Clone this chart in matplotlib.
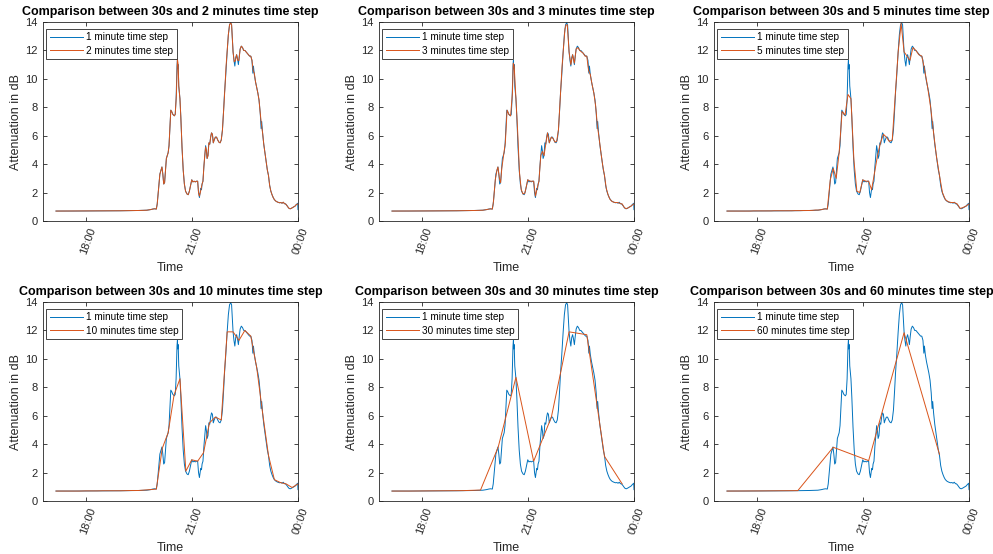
import matplotlib
matplotlib.use("Agg")
import matplotlib.pyplot as plt
import matplotlib.dates as mdates
from matplotlib.transforms import ScaledTranslation
import numpy as np
from datetime import datetime, timedelta

plt.rcParams['font.family'] = ['Liberation Sans', 'DejaVu Sans']

# All times are minutes relative to 21:00 on the day of the event
REF_TIME = datetime(2020, 6, 1, 21, 0)
SERIES_START = -230  # 17:10

# Fine-resolution attenuation record (dB)
base_t = [-230, -200, -160, -120, -90, -76, -70, -66, -63, -60, -58.5, -56, -54, -52,
          -50.5, -49, -47.5, -46, -44.5, -43, -41.5, -40, -38.5, -37, -35.5, -34, -32,
          -29.5, -28, -26.5, -25, -24.3, -23.6, -23, -22, -20, -18.5, -16.5, -14.5,
          -12.5, -10.5, -8, -6, -4, -2, 0, 2, 4, 6, 8, 10, 11.5, 13, 14.5, 15.5, 16.5,
          17.5, 19, 20.5, 22, 23.5, 25, 26, 27.5, 29, 30.5, 32, 33.5, 35, 36.5, 38, 40,
          42, 44, 46, 48, 50, 52, 54, 55.5, 57.5, 60, 62, 64, 66, 67.5, 69, 70, 71.5,
          73, 74.5, 76, 77.5, 79, 80.5, 82, 84, 86, 88, 90, 92, 94, 96, 98, 100, 102,
          103.5, 104.5, 106, 108, 110, 112, 114, 116, 117.5, 118.5, 120, 122, 124, 126,
          128, 130, 132, 134, 136, 138, 140, 143, 146, 149, 151, 153, 155, 157, 159,
          161, 163, 165, 167, 169, 171, 173, 175, 177, 179.5, 180]
base_v = [0.70, 0.70, 0.71, 0.72, 0.74, 0.76, 0.80, 0.84, 0.86, 0.84, 1.2, 2.4, 3.3, 3.6,
          3.8, 3.3, 2.6, 2.7, 3.5, 4.4, 4.6, 4.8, 5.3, 6.6, 7.8, 7.7, 7.5,
          7.4, 7.5, 8.6, 10.9, 11.3, 10.7, 11.0, 9.5, 8.6, 7.3, 5.2, 3.6,
          2.6, 2.1, 1.9, 1.85, 2.1, 2.5, 2.9, 2.75, 2.8, 2.75, 2.8, 2.8, 2.0, 1.65, 2.1, 2.3, 2.2,
          2.6, 2.8, 3.8, 4.6, 5.3, 4.9, 4.4, 4.6, 5.5, 5.4, 5.9, 6.2, 6.1, 5.5, 5.7, 5.9,
          5.9, 5.7, 5.55, 5.5, 5.7, 6.4, 7.8, 9.0, 10.2, 11.9, 13.1, 13.8, 13.95, 13.8, 12.6, 11.9, 11.3,
          10.9, 11.5, 11.7, 11.4, 11.0, 11.6, 12.1, 12.3, 12.2, 12.0, 12.0, 11.9, 11.8, 11.7, 11.6, 11.6, 11.3,
          10.4, 10.9, 10.3, 9.8, 9.4, 9.0, 8.5, 7.6, 6.5, 7.0, 6.2, 5.4, 4.8, 4.2,
          3.6, 3.2, 2.5, 2.1, 1.85, 1.65, 1.5, 1.38, 1.32, 1.28, 1.3, 1.25, 1.32, 1.22, 1.2,
          1.1, 0.98, 0.88, 0.86, 0.9, 0.95, 1.0, 1.05, 1.15, 1.25, 0.8]

# 2-minute resampled record
step2_t = [-230, -160, -120, -90, -76, -70, -66, -63, -60, -58.5, -56, -54, -52, -50.5,
           -49, -47.5, -46, -44.5, -43, -41.5, -40, -38.5, -37, -35.5, -34, -32, -29.5,
           -28, -26, -24.3, -23, -22, -20, -18.5, -16.5, -14.5, -12.5, -10.5, -8, -6,
           -4, -2, 0, 2, 4, 6, 8, 10, 11.5, 13, 14.5, 16, 17.5, 19, 20.5, 22, 23.5, 25,
           26, 27.5, 29, 30.5, 32, 33.5, 35, 36.5, 38, 40, 42, 44, 46, 48, 50, 52, 54,
           56, 58, 60, 62, 64, 66, 67.5, 69, 70, 72, 74, 76, 78, 80, 82, 84, 86, 88, 90,
           94, 98, 100, 102, 104, 106, 108, 110, 112, 114, 116, 118, 120, 122, 124, 126,
           128, 130, 132, 134, 136, 138, 140, 143, 146, 149, 151, 153, 155, 157, 159,
           161, 163, 165, 167, 169, 171, 173, 175, 177, 180]
step2_v = [0.70, 0.71, 0.72, 0.74, 0.76, 0.80, 0.84, 0.86, 0.84, 1.2, 2.4, 3.3, 3.6, 3.8,
           3.3, 2.6, 2.7, 3.5, 4.4, 4.6, 4.8, 5.3, 6.6, 7.8, 7.7, 7.5, 7.4,
           7.5, 8.9, 11.4, 11.0, 9.5, 8.6, 7.3, 5.2, 3.6, 2.6, 2.1, 1.9, 1.85,
           2.1, 2.5, 2.9, 2.75, 2.8, 2.75, 2.8, 2.8, 2.0, 1.75, 2.0, 2.3, 2.6, 2.8, 3.8, 4.6, 5.2, 4.9,
           4.4, 4.6, 5.5, 5.4, 5.9, 6.2, 6.1, 5.5, 5.7, 5.9, 5.9, 5.7, 5.55, 5.5, 5.7, 6.4, 7.8,
           9.2, 10.8, 11.9, 13.1, 13.8, 13.95, 13.8, 12.6, 11.9, 11.2, 11.3, 11.7, 11.3, 11.3, 12.1, 12.3, 12.2, 12.0, 12.0,
           11.8, 11.6, 11.6, 11.3, 10.6, 10.4, 9.8, 9.4, 9.0, 8.5, 7.6, 6.8, 6.2, 5.4, 4.8, 4.2,
           3.6, 3.2, 2.5, 2.1, 1.85, 1.65, 1.5, 1.38, 1.32, 1.28, 1.3, 1.25, 1.32, 1.22, 1.2,
           1.1, 0.98, 0.88, 0.86, 0.9, 0.95, 1.0, 1.05, 1.15, 1.2]

# 3-minute resampled record
step3_t = [-230, -160, -120, -90, -76, -70, -64, -60, -58, -55, -52, -50.5, -48, -46, -44,
           -41, -38, -35, -32, -29, -26, -24.5, -23, -20, -17, -14, -11, -8, -5, -2, 0,
           4, 8, 10, 13, 16, 19, 22, 25, 27.5, 30.5, 33.5, 36.5, 40, 43, 46, 49, 52, 55,
           58, 60, 63, 65, 67, 70, 73, 76, 79, 82, 85, 88, 91, 94, 97, 100, 103, 106,
           109, 112, 115, 118, 121, 124, 127, 130, 133, 136, 139, 142, 145, 148, 151,
           154, 157, 160, 163, 166, 169, 172, 175, 178, 180]
step3_v = [0.70, 0.71, 0.72, 0.74, 0.76, 0.80, 0.85, 0.84, 1.4, 2.9, 3.6, 3.8, 3.0, 2.7, 3.7,
           4.6, 5.5, 7.8, 7.5, 7.4, 9.0, 11.1, 10.9, 8.6, 6.2, 3.4, 2.2, 1.9, 1.95, 2.5, 2.9,
           2.8, 2.8, 2.8, 1.75, 2.3, 2.8, 4.6, 4.9, 4.6, 5.4, 6.2, 5.5, 5.9, 5.8, 5.55, 5.6, 6.4, 8.6,
           10.8, 11.9, 13.5, 13.8, 13.8, 11.9, 11.0, 11.7, 11.1, 12.1, 12.2, 12.0, 11.9, 11.8, 11.6, 11.6, 10.6, 10.3,
           9.6, 9.0, 8.1, 6.7, 5.8, 4.8, 3.9, 3.2, 2.3, 1.85, 1.55, 1.4, 1.33, 1.3, 1.3,
           1.28, 1.22, 1.2, 0.98, 0.87, 0.9, 0.98, 1.05, 1.15, 1.2]

# 5-minute samples from 17:10
step5_v = [0.70, 0.70, 0.70, 0.70, 0.70, 0.70, 0.70, 0.70, 0.70, 0.71,
           0.71, 0.71, 0.71, 0.71, 0.71, 0.71, 0.72, 0.72, 0.72, 0.72,
           0.72, 0.72, 0.72, 0.73, 0.73, 0.73, 0.74, 0.74, 0.74, 0.75,
           0.77, 0.77, 0.80, 0.85, 0.84, 2.9, 3.7, 3.0, 4.8, 7.7,
           7.45, 8.9, 8.6, 4.3, 2.1, 2.0, 2.9, 2.8, 2.8, 2.2,
           3.4, 4.6, 5.5, 6.1, 5.9, 5.6, 5.7, 8.8, 11.9, 13.9,
           11.9, 11.6, 11.3, 12.2, 12.0, 11.7, 11.6, 10.6, 9.4, 8.0,
           6.2, 4.5, 3.2, 2.0, 1.5, 1.35, 1.3, 1.3, 1.2, 0.88,
           0.95, 1.05, 1.2]

# 10-minute samples from 17:10
step10_v = [0.70, 0.70, 0.70, 0.70, 0.70, 0.71, 0.71, 0.71, 0.72, 0.72,
            0.72, 0.72, 0.73, 0.74, 0.74, 0.77, 0.80, 0.84, 3.7, 4.8,
            7.45, 8.6, 2.1, 2.9, 2.8, 3.4, 5.5, 5.9, 5.7, 11.9,
            11.9, 11.3, 12.0, 11.6, 9.4, 6.2, 3.2, 1.5, 1.3, 1.2,
            0.95, 1.2]

# 30-minute samples from 17:10
step30_v = [0.70, 0.70, 0.71, 0.72, 0.73, 0.77, 3.8, 8.7, 2.8, 5.9, 11.9, 11.7, 3.14, 1.2]

# 60-minute samples from 17:10
step60_v = [0.70, 0.71, 0.73, 3.78, 2.84, 11.84, 3.28]

step_minutes = [2, 3, 5, 10, 30, 60]

BLUE = '#0072BD'
ORANGE = '#D95319'
AXIS_GRAY = '#262626'


def to_dt(minutes):
    return [REF_TIME + timedelta(minutes=float(m)) for m in minutes]


def grid_times(step, n):
    return SERIES_START + step * np.arange(n)


coarse = {
    2: (step2_t, step2_v),
    3: (step3_t, step3_v),
    5: (grid_times(5, len(step5_v)), step5_v),
    10: (grid_times(10, len(step10_v)), step10_v),
    30: (grid_times(30, len(step30_v)), step30_v),
    60: (grid_times(60, len(step60_v)), step60_v),
}

W, H = 993, 554
fig = plt.figure(figsize=(W / 100, H / 100), dpi=100)

col_left = [43, 379, 714]
row_top = [22, 302]
ax_w, ax_h = 255, 199

for i, step in enumerate(step_minutes):
    r, c = divmod(i, 3)
    ax = fig.add_axes([col_left[c] / W, 1 - (row_top[r] + ax_h) / H, ax_w / W, ax_h / H])
    ct, cv = coarse[step]
    ax.plot(to_dt(base_t), base_v, color=BLUE, lw=0.7, label='1 minute time step')
    ax.plot(to_dt(ct), cv, color=ORANGE, lw=0.7, label=f'{step} minutes time step')

    ax.set_xlim(REF_TIME - timedelta(minutes=252), REF_TIME + timedelta(minutes=180))
    ax.set_ylim(0, 14)
    ax.set_yticks(np.arange(0, 15, 2))
    ax.xaxis.set_major_locator(mdates.HourLocator(byhour=[0, 18, 21]))
    ax.xaxis.set_major_formatter(mdates.DateFormatter('%H:%M'))

    ax.tick_params(direction='in', top=True, right=True, length=3, width=0.6,
                   colors=AXIS_GRAY, labelsize=8, pad=4)
    for sp in ax.spines.values():
        sp.set_linewidth(0.6)
        sp.set_color(AXIS_GRAY)

    offset = ScaledTranslation(3 / 100, 0, fig.dpi_scale_trans)
    for lbl in ax.get_xticklabels():
        lbl.set_rotation(70)
        lbl.set_ha('center')
        lbl.set_va('top')
        lbl.set_transform(lbl.get_transform() + offset)

    ax.set_title(f'Comparison between 30s and {step} minutes time step',
                 fontsize=9, fontweight='bold', pad=5, color='black')
    ax.set_xlabel('Time', fontsize=9, color=AXIS_GRAY, labelpad=4)
    ax.set_ylabel('Attenuation in dB', fontsize=9, color=AXIS_GRAY, labelpad=2)

    leg = ax.legend(loc='upper left', bbox_to_anchor=(3 / ax_w, 1 - 7 / ax_h),
                    borderaxespad=0, fontsize=7.2, frameon=True, fancybox=False,
                    edgecolor=AXIS_GRAY, framealpha=1, handlelength=3.3,
                    handletextpad=0.35, borderpad=0.35, labelspacing=0.3)
    leg.get_frame().set_linewidth(0.6)

fig.savefig('out.png', dpi=100)
